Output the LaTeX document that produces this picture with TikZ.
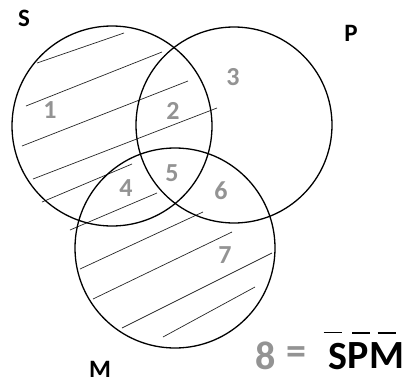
\documentclass[tikz,border=0pt]{standalone}
\usepackage{fontspec}
\setmainfont{Carlito}
\usetikzlibrary{positioning}

\begin{document}
\begin{tikzpicture}[x=1pt, y=-1pt,
  ring/.style={line width=1.3pt},
  hatch/.style={line width=0.7pt, black!85},
  setname/.style={font=\fontsize{25}{25}\selectfont\bfseries},
  region/.style={text=gray!85, font=\fontsize{26}{26}\selectfont\bfseries},
  big/.style={inner sep=0pt, font=\fontsize{40}{40}\selectfont\bfseries},
  bar/.style={line width=1.6pt}]
  \useasboundingbox (0,0) rectangle (407,383);
  % Centres
  \coordinate (cS) at (112,126);
  \coordinate (cP) at (234,125);
  \coordinate (cM) at (175,248);
  % Hatching
  \foreach \xa/\ya/\xb/\yb in {37/63/124/33, 26/106/162/52, 22/146/188/81,
      33/179/217/108, 42/202/132/164, 70/230/157/193, 80/269/203/212,
      93/299/232/232, 122/328/272/253, 163/337/255/287}
    \draw[hatch] (\xa,\ya) -- (\xb,\yb);
  % Circles
  \draw[ring] (cS) circle[radius=100pt];
  \draw[ring] (cP) circle[radius=98pt];
  \draw[ring] (cM) circle[radius=100pt];
  % Set names
  \node[setname] (lS) at (24,18) {S};
  \node[setname] (lP) at (351,33) {P};
  \node[setname] (lM) at (100,369) {M};
  % Regions
  \foreach \n/\x/\y in {1/50/110, 2/173/111, 3/233/77, 4/126/188,
      5/172/173, 6/221/191, 7/225/255}
    \node[region] (r\n) at (\x,\y) {\n};
  % Region 8
  \node[big, text=gray!85] (r8) at (266,356) {8};
  \node[big, text=gray!85] (eq) at (296,356) {=};
  \node[big, anchor=base west] (nS) at (328,369) {S};
  \node[big, right=0pt of nS] (nP) {P};
  \node[big, right=0pt of nP] (nM) {M};
  \foreach \c/\dx in {nS/-5, nP/3, nM/0}
    \draw[bar] ([shift={(\dx pt-9pt,10pt)}]\c.north) -- ([shift={(\dx pt+9pt,10pt)}]\c.north);
\end{tikzpicture}
\end{document}
